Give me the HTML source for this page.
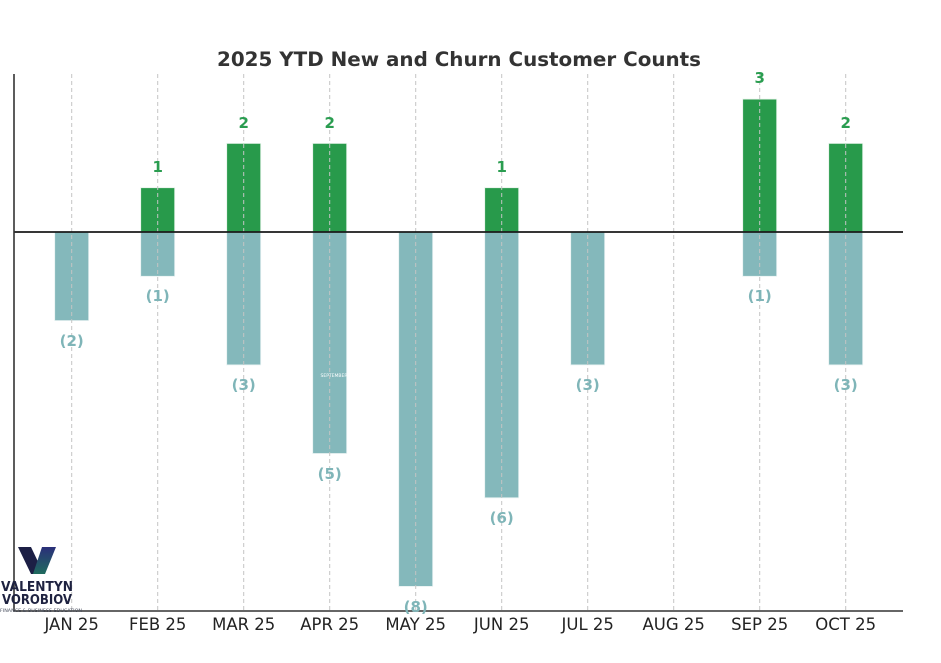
<!DOCTYPE html>
<html><head><meta charset="utf-8"><style>
html,body{margin:0;padding:0;background:#fff;}
svg{display:block;}
text{font-family:"DejaVu Sans","Liberation Sans",sans-serif;}
</style></head><body>
<svg width="941" height="663" viewBox="0 0 941 663" xmlns="http://www.w3.org/2000/svg">
<defs>
<linearGradient id="vg" x1="0" y1="0" x2="0" y2="1">
<stop offset="0" stop-color="#2b2f7a"/><stop offset="1" stop-color="#1f6b5e"/>
</linearGradient>
</defs>
<rect width="941" height="663" fill="#fff"/>
<text x="459" y="66" text-anchor="middle" font-size="19.5" font-weight="bold" fill="#333" textLength="484" lengthAdjust="spacingAndGlyphs">2025 YTD New and Churn Customer Counts</text>

<!-- bars -->
<g fill="#84b8bb" stroke="#e8f2f2" stroke-width="0.8">
<rect x="54.7" y="232" width="34" height="88.6"/>
<rect x="140.7" y="232" width="34" height="44.3"/>
<rect x="226.7" y="232" width="34" height="132.9"/>
<rect x="312.7" y="232" width="34" height="221.5"/>
<rect x="398.7" y="232" width="34" height="354.4"/>
<rect x="484.7" y="232" width="34" height="265.8"/>
<rect x="570.7" y="232" width="34" height="132.9"/>
<rect x="742.7" y="232" width="34" height="44.3"/>
<rect x="828.7" y="232" width="34" height="132.9"/>
</g>
<g fill="#289a4b" stroke="#e6f3ea" stroke-width="0.8">
<rect x="140.7" y="187.7" width="34" height="44.3"/>
<rect x="226.7" y="143.4" width="34" height="88.6"/>
<rect x="312.7" y="143.4" width="34" height="88.6"/>
<rect x="484.7" y="187.7" width="34" height="44.3"/>
<rect x="742.7" y="99.1" width="34" height="132.9"/>
<rect x="828.7" y="143.4" width="34" height="88.6"/>
</g>

<!-- grid -->
<g stroke="#c4c4c4" stroke-width="1" stroke-dasharray="4,3">
<line x1="71.7" y1="74" x2="71.7" y2="611"/>
<line x1="157.7" y1="74" x2="157.7" y2="611"/>
<line x1="243.7" y1="74" x2="243.7" y2="611"/>
<line x1="329.7" y1="74" x2="329.7" y2="611"/>
<line x1="415.7" y1="74" x2="415.7" y2="611"/>
<line x1="501.7" y1="74" x2="501.7" y2="611"/>
<line x1="587.7" y1="74" x2="587.7" y2="611"/>
<line x1="673.7" y1="74" x2="673.7" y2="611"/>
<line x1="759.7" y1="74" x2="759.7" y2="611"/>
<line x1="845.7" y1="74" x2="845.7" y2="611"/>
</g>

<text x="334" y="377" text-anchor="middle" font-size="4.5" fill="#ffffff">SEPTEMBER</text>

<!-- zero line & axes -->
<line x1="14" y1="232" x2="903" y2="232" stroke="#1a1a1a" stroke-width="1.8"/>
<line x1="14" y1="74" x2="14" y2="611.5" stroke="#333" stroke-width="1.6"/>
<line x1="13.2" y1="611" x2="903" y2="611" stroke="#333" stroke-width="1.6"/>

<!-- value labels -->
<g font-size="15" font-weight="bold" fill="#2a9d50" text-anchor="middle">
<text x="157.7" y="172">1</text>
<text x="243.7" y="128">2</text>
<text x="329.7" y="128">2</text>
<text x="501.7" y="172">1</text>
<text x="759.7" y="83">3</text>
<text x="845.7" y="128">2</text>
</g>
<g font-size="15" font-weight="bold" fill="#7fb5b8" text-anchor="middle">
<text x="71.7" y="346">(2)</text>
<text x="157.7" y="301">(1)</text>
<text x="243.7" y="390">(3)</text>
<text x="329.7" y="479">(5)</text>
<text x="415.7" y="612">(8)</text>
<text x="501.7" y="523">(6)</text>
<text x="587.7" y="390">(3)</text>
<text x="759.7" y="301">(1)</text>
<text x="845.7" y="390">(3)</text>
</g>

<!-- x tick labels -->
<g font-size="16.5" fill="#222" text-anchor="middle">
<text x="71.7" y="630">JAN 25</text>
<text x="157.7" y="630">FEB 25</text>
<text x="243.7" y="630">MAR 25</text>
<text x="329.7" y="630">APR 25</text>
<text x="415.7" y="630">MAY 25</text>
<text x="501.7" y="630">JUN 25</text>
<text x="587.7" y="630">JUL 25</text>
<text x="673.7" y="630">AUG 25</text>
<text x="759.7" y="630">SEP 25</text>
<text x="845.7" y="630">OCT 25</text>
</g>

<!-- logo -->
<polygon points="18,547 31,547 41,568 37,574 31,574" fill="#1c1f45"/>
<polygon points="42,547 56,547 45,574 33,574" fill="url(#vg)"/>
<text x="37" y="591" text-anchor="middle" font-size="13" font-weight="bold" fill="#1e2240" textLength="72" lengthAdjust="spacingAndGlyphs">VALENTYN</text>
<text x="37" y="604" text-anchor="middle" font-size="13" font-weight="bold" fill="#1e2240" textLength="70" lengthAdjust="spacingAndGlyphs">VOROBIOV</text>
<text x="41" y="612" text-anchor="middle" font-size="4" fill="#4a5060" textLength="82" lengthAdjust="spacingAndGlyphs">FINANCE &amp; BUSINESS EDUCATION</text>
</svg>
</body></html>
